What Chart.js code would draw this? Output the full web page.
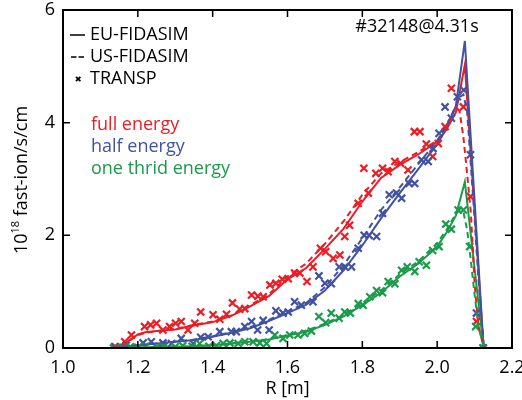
<!DOCTYPE html>
<html>
<head>
<meta charset="utf-8">
<script src="https://cdn.jsdelivr.net/npm/chart.js@4.4.1/dist/chart.umd.min.js"></script>
<style>
  html, body { margin: 0; padding: 0; background: #fff; }
</style>
</head>
<body>
<canvas id="myChart" width="522" height="400"></canvas>
<script>
var FONT = "'Open Sans', sans-serif";
var RED = "#ec1c24";
var BLUE = "#4152a3";
var GREEN = "#1b9a4a";

// EU-FIDASIM profiles (solid), one R grid for the three energy components
var rEu = [1.13, 1.16, 1.18, 1.20, 1.22, 1.25, 1.30, 1.35, 1.40, 1.45, 1.50, 1.55, 1.60, 1.65, 1.70, 1.75, 1.80, 1.85, 1.90, 1.95, 2.00, 2.025, 2.05, 2.074, 2.124];
var euFull = [0, 0.05, 0.15, 0.24, 0.28, 0.30, 0.33, 0.40, 0.46, 0.57, 0.74, 0.92, 1.22, 1.42, 1.76, 2.12, 2.60, 3.02, 3.25, 3.44, 3.66, 3.88, 4.18, 5.03, 0];
var euHalf = [0, 0.02, 0.03, 0.05, 0.06, 0.08, 0.11, 0.14, 0.20, 0.27, 0.35, 0.48, 0.62, 0.77, 1.02, 1.38, 1.82, 2.30, 2.75, 3.18, 3.62, 3.90, 4.30, 5.45, 0];
var euThird = [0, 0.00, 0.01, 0.01, 0.01, 0.02, 0.02, 0.03, 0.05, 0.08, 0.11, 0.15, 0.22, 0.29, 0.41, 0.56, 0.76, 0.98, 1.27, 1.50, 1.80, 2.05, 2.35, 2.95, 0];

// US-FIDASIM profiles (dashed)
var rUs = [1.13, 1.16, 1.18, 1.20, 1.22, 1.25, 1.30, 1.35, 1.40, 1.45, 1.50, 1.55, 1.60, 1.65, 1.70, 1.75, 1.80, 1.85, 1.90, 1.95, 2.00, 2.025, 2.05, 2.06, 2.07, 2.08, 2.09, 2.10, 2.11, 2.125];
var usFull = [0, 0.05, 0.14, 0.23, 0.27, 0.30, 0.34, 0.41, 0.47, 0.58, 0.76, 0.95, 1.27, 1.50, 1.85, 2.25, 2.72, 3.10, 3.30, 3.48, 3.68, 3.90, 4.28, 4.20, 3.75, 3.10, 2.40, 1.15, 0.40, 0];
var usHalf = [0, 0.02, 0.03, 0.05, 0.06, 0.08, 0.11, 0.15, 0.21, 0.28, 0.37, 0.50, 0.65, 0.80, 1.08, 1.47, 1.95, 2.45, 2.85, 3.27, 3.68, 3.95, 4.30, 4.45, 4.50, 4.20, 3.25, 2.30, 1.25, 0];
var usThird = [0, 0.00, 0.01, 0.01, 0.01, 0.02, 0.02, 0.03, 0.05, 0.08, 0.11, 0.16, 0.23, 0.31, 0.43, 0.59, 0.80, 1.02, 1.31, 1.54, 1.86, 2.10, 2.38, 2.45, 2.42, 2.10, 1.55, 0.95, 0.38, 0];

// TRANSP points (crosses)
var transpFullR = [1.14, 1.165, 1.183, 1.218, 1.234, 1.25, 1.267, 1.285, 1.301, 1.316, 1.334, 1.352, 1.368, 1.401, 1.419, 1.437, 1.453, 1.472, 1.486, 1.504, 1.521, 1.535, 1.553, 1.569, 1.586, 1.602, 1.619, 1.633, 1.652, 1.668, 1.688, 1.702, 1.722, 1.74, 1.753, 1.766, 1.789, 1.804, 1.816, 1.836, 1.854, 1.869, 1.887, 1.902, 1.922, 1.939, 1.954, 1.971, 1.988, 2.003, 2.021, 2.038, 2.07, 2.089, 2.105, 2.123];
var transpFull = [0.02, 0.11, 0.23, 0.38, 0.41, 0.44, 0.32, 0.38, 0.44, 0.47, 0.32, 0.44, 0.64, 0.59, 0.51, 0.60, 0.80, 0.69, 0.70, 0.94, 0.92, 0.91, 1.12, 1.15, 1.22, 1.23, 1.33, 1.33, 1.18, 1.44, 1.77, 1.71, 1.59, 1.65, 1.98, 2.18, 2.57, 3.19, 2.75, 3.10, 3.19, 3.13, 3.31, 3.28, 3.16, 3.84, 3.84, 3.62, 3.40, 3.63, 3.93, 4.61, 4.28, 2.69, 0.47, 0];

var transpHalfR = [1.138, 1.169, 1.214, 1.236, 1.267, 1.29, 1.316, 1.348, 1.368, 1.388, 1.419, 1.45, 1.463, 1.486, 1.504, 1.52, 1.535, 1.551, 1.569, 1.588, 1.602, 1.619, 1.637, 1.668, 1.684, 1.70, 1.717, 1.738, 1.753, 1.771, 1.789, 1.805, 1.818, 1.838, 1.854, 1.872, 1.891, 1.905, 1.925, 1.94, 1.958, 1.976, 1.989, 2.005, 2.021, 2.038, 2.054, 2.071, 2.089, 2.105, 2.123];
var transpHalf = [0.02, 0.05, 0.09, 0.11, 0.09, 0.08, 0.17, 0.08, 0.19, 0.20, 0.29, 0.29, 0.29, 0.38, 0.47, 0.32, 0.49, 0.32, 0.66, 0.62, 0.64, 0.82, 0.76, 0.82, 1.28, 1.15, 1.14, 1.44, 1.44, 1.44, 1.77, 2.00, 2.00, 1.98, 2.39, 2.72, 2.75, 2.66, 2.92, 2.92, 3.34, 3.31, 3.54, 3.81, 4.28, 4.08, 4.46, 4.58, 3.43, 0.62, 0];

var transpThirdR = [1.135, 1.16, 1.18, 1.20, 1.22, 1.25, 1.27, 1.30, 1.32, 1.345, 1.365, 1.39, 1.41, 1.428, 1.446, 1.468, 1.486, 1.508, 1.526, 1.544, 1.566, 1.588, 1.606, 1.628, 1.646, 1.664, 1.684, 1.702, 1.717, 1.738, 1.753, 1.768, 1.789, 1.802, 1.82, 1.838, 1.854, 1.869, 1.887, 1.905, 1.92, 1.94, 1.952, 1.971, 1.988, 2.005, 2.023, 2.038, 2.056, 2.07, 2.087, 2.103, 2.123];
var transpThird = [0, 0.01, 0.02, 0.01, 0.03, 0.02, 0.03, 0.02, 0.04, 0.03, 0.08, 0.03, 0.04, 0.08, 0.09, 0.08, 0.11, 0.11, 0.09, 0.08, 0.23, 0.17, 0.23, 0.23, 0.26, 0.30, 0.56, 0.45, 0.62, 0.53, 0.64, 0.62, 0.79, 0.76, 0.91, 1.02, 0.98, 1.18, 1.14, 1.38, 1.44, 1.36, 1.53, 1.47, 1.73, 1.80, 2.20, 2.11, 2.45, 2.45, 1.80, 0.38, 0];

var codeLabels = ["EU-FIDASIM", "US-FIDASIM", "TRANSP"];
var energyLabels = ["full energy", "half energy", "one thrid energy"];
var shotLabel = "#32148@4.31s";

function pts(xs, ys) {
  return xs.map(function (x, i) { return { x: x, y: ys[i] }; });
}

function profile(xs, ys, color, dash) {
  return {
    data: pts(xs, ys),
    showLine: true,
    borderColor: color,
    borderWidth: 2,
    borderDash: dash,
    pointRadius: 0,
    pointHoverRadius: 0,
    tension: 0
  };
}

function crosses(xs, ys, color) {
  return {
    data: pts(xs, ys),
    showLine: false,
    pointStyle: "crossRot",
    pointRadius: 5,
    pointHoverRadius: 5,
    borderColor: color,
    backgroundColor: color,
    borderWidth: 2.2
  };
}

// frame, inward ticks, y title with superscript and the text labels
var decorations = {
  id: "decorations",
  afterDraw: function (chart) {
    var ctx = chart.ctx;
    var a = chart.chartArea;
    var xs = chart.scales.x;
    var ys = chart.scales.y;
    ctx.save();
    ctx.strokeStyle = "#000";
    ctx.lineWidth = 2;
    ctx.strokeRect(a.left, a.top, a.right - a.left, a.bottom - a.top);

    ctx.lineWidth = 1.5;
    ctx.beginPath();
    xs.ticks.forEach(function (t) {
      if (t.value <= xs.min + 1e-6 || t.value >= xs.max - 1e-6) return;
      var px = xs.getPixelForValue(t.value);
      ctx.moveTo(px, a.bottom); ctx.lineTo(px, a.bottom - 7);
      ctx.moveTo(px, a.top); ctx.lineTo(px, a.top + 7);
    });
    ys.ticks.forEach(function (t) {
      if (t.value <= ys.min + 1e-6 || t.value >= ys.max - 1e-6) return;
      var py = ys.getPixelForValue(t.value);
      ctx.moveTo(a.left, py); ctx.lineTo(a.left + 7, py);
      ctx.moveTo(a.right, py); ctx.lineTo(a.right - 7, py);
    });
    ctx.stroke();

    // y axis title
    ctx.save();
    ctx.translate(22, 180);
    ctx.rotate(-Math.PI / 2);
    ctx.fillStyle = "#000";
    ctx.textBaseline = "middle";
    ctx.textAlign = "left";
    ctx.font = "18px " + FONT;
    var w1 = ctx.measureText("10").width;
    var w3 = ctx.measureText(" fast-ion/s/cm").width;
    ctx.font = "11px " + FONT;
    var w2 = ctx.measureText("18").width;
    var x0 = -(w1 + w2 + w3) / 2;
    ctx.font = "18px " + FONT;
    ctx.fillText("10", x0, 0);
    ctx.fillText(" fast-ion/s/cm", x0 + w1 + w2, 0);
    ctx.font = "11px " + FONT;
    ctx.fillText("18", x0 + w1, -6);
    ctx.restore();

    // code legend
    ctx.font = "18px " + FONT;
    ctx.textBaseline = "middle";
    ctx.textAlign = "left";
    ctx.fillStyle = "#000";
    var rows = [35, 57, 79];
    codeLabels.forEach(function (s, i) {
      ctx.fillText(s, 90, rows[i]);
    });
    ctx.lineWidth = 1.5;
    ctx.beginPath();
    ctx.moveTo(70, rows[0]); ctx.lineTo(85, rows[0]);
    ctx.moveTo(71, rows[1]); ctx.lineTo(76.5, rows[1]);
    ctx.moveTo(78.5, rows[1]); ctx.lineTo(84, rows[1]);
    ctx.stroke();
    ctx.lineWidth = 1.8;
    ctx.beginPath();
    ctx.moveTo(76, rows[2] - 2.2); ctx.lineTo(80.4, rows[2] + 2.2);
    ctx.moveTo(80.4, rows[2] - 2.2); ctx.lineTo(76, rows[2] + 2.2);
    ctx.stroke();

    // energy component labels
    var colors = [RED, BLUE, GREEN];
    var erows = [125, 147, 169];
    energyLabels.forEach(function (s, i) {
      ctx.fillStyle = colors[i];
      ctx.fillText(s, 91, erows[i]);
    });

    ctx.fillStyle = "#000";
    ctx.textAlign = "center";
    ctx.fillText(shotLabel, 417, 27);
    ctx.restore();
  }
};

new Chart("myChart", {
  type: "scatter",
  data: {
    datasets: [
      profile(rUs, usThird, GREEN, [6, 4]),
      profile(rUs, usHalf, BLUE, [6, 4]),
      profile(rUs, usFull, RED, [6, 4]),
      crosses(transpThirdR, transpThird, GREEN),
      crosses(transpHalfR, transpHalf, BLUE),
      crosses(transpFullR, transpFull, RED),
      profile(rEu, euThird, GREEN, []),
      profile(rEu, euHalf, BLUE, []),
      profile(rEu, euFull, RED, [])
    ]
  },
  plugins: [decorations],
  options: {
    responsive: false,
    animation: false,
    events: [],
    layout: { padding: { top: 10, right: 10, left: 0, bottom: 0 } },
    plugins: {
      legend: { display: false },
      tooltip: { enabled: false }
    },
    scales: {
      x: {
        type: "linear",
        min: 1.0,
        max: 2.2,
        grid: { display: false, drawTicks: false },
        border: { display: false },
        ticks: {
          stepSize: 0.2,
          padding: 9,
          color: "#000",
          font: { family: FONT, size: 18 },
          maxRotation: 0,
          callback: function (v) { return v.toFixed(1); }
        },
        title: {
          display: true,
          text: "R [m]",
          color: "#000",
          font: { family: FONT, size: 18 },
          padding: { top: 0, bottom: 0 }
        },
        afterFit: function (s) {
          s.height = 52;
          s.paddingLeft = 0;
          s.paddingRight = 0;
        }
      },
      y: {
        type: "linear",
        min: 0,
        max: 6,
        grid: { display: false, drawTicks: false },
        border: { display: false },
        ticks: {
          stepSize: 2,
          padding: 8,
          color: "#000",
          font: { family: FONT, size: 18 }
        },
        afterFit: function (s) {
          s.width = 63;
          s.paddingTop = 0;
          s.paddingBottom = 0;
        }
      }
    }
  }
});
</script>
</body>
</html>
